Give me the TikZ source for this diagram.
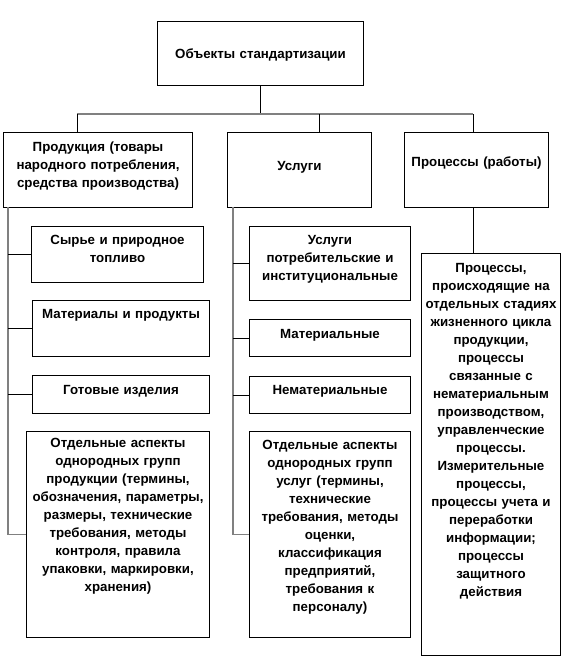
\documentclass[tikz,border=0pt]{standalone}
\usepackage{fontspec}
\setmainfont{Liberation Sans}

\begin{document}
\begin{tikzpicture}[x=1pt,y=-1pt,line width=1pt,
  font=\fontsize{13.3pt}{18pt}\selectfont\bfseries,
  cell/.style args={#1/#2/#3}{draw,anchor=north west,inner xsep=4pt,inner ysep=0pt,align=center,
    text width={#1-8pt},text height={#3},text depth={#2-#3}},
  bus/.style={draw=black!50,line width=1.8pt},
  link/.style={draw=black,line width=1pt}]
  \useasboundingbox (0,0) rectangle (562,659);

  \node[cell=206pt/64pt/37pt] (top) at (157,21) {Объекты стандартизации};

  \node[cell=189pt/75pt/19pt] (prod) at (3,132) {Продукция (товары\\народного потребления,\\средства производства)};
  \node[cell=144pt/75pt/38pt] (serv) at (227,132) {Услуги};
  \node[cell=144pt/75pt/34pt] (proc) at (404,132) {Процессы (работы)};

  \node[cell=172pt/56pt/18pt] (raw) at (31,226) {Сырье и природное\\топливо};
  \node[cell=177pt/56pt/18pt] (mat) at (32,300) {Материалы и продукты};
  \node[cell=177pt/38pt/19pt] (fin) at (32,375) {Готовые изделия};
  \node[cell=183pt/206pt/16pt] (aspP) at (26,431) {Отдельные аспекты\\однородных групп\\продукции (термины,\\обозначения, параметры,\\размеры, технические\\требования, методы\\контроля, правила\\упаковки, маркировки,\\хранения)};

  \node[cell=161pt/74pt/18pt] (cons) at (249,226) {Услуги\\потребительские и\\институциональные};
  \node[cell=161pt/37pt/19pt] (matS) at (249,319) {Материальные};
  \node[cell=161pt/37pt/18pt] (nonm) at (249,376) {Нематериальные};
  \node[cell=161pt/206pt/18pt] (aspS) at (249,431) {Отдельные аспекты\\однородных групп\\услуг (термины,\\технические\\требования, методы\\оценки,\\классификация\\предприятий,\\требования к\\персоналу)};

  \node[cell=139pt/402pt/19pt] (procD) at (421,253) {Процессы,\\происходящие на\\отдельных стадиях\\жизненного цикла\\продукции,\\процессы\\связанные с\\нематериальным\\производством,\\управленческие\\процессы.\\Измерительные\\процессы,\\процессы учета и\\переработки\\информации;\\процессы\\защитного\\действия};

  \coordinate (bL) at (77,114);
  \coordinate (bM) at (319,114);
  \coordinate (bR) at (473,114);
  \coordinate (spL) at (8,207);
  \coordinate (spM) at (233,207);

  \draw[link] (top.south) -- (top.south |- bM);
  \draw[bus] (bL) -- (bR);
  \foreach \b/\n in {bL/prod,bM/serv,bR/proc}
    \draw[link] (\b) -- (\b |- \n.north);

  \draw[bus] (spL) |- (aspP.west);
  \foreach \n in {raw,mat,fin}
    \draw[link] (spL |- \n.west) -- (\n.west);
  \draw[bus] (spM) |- (aspS.west);
  \foreach \n in {cons,matS,nonm}
    \draw[link] (spM |- \n.west) -- (\n.west);
  \draw[link] (bR |- proc.south) -- (bR |- procD.north);
\end{tikzpicture}
\end{document}
